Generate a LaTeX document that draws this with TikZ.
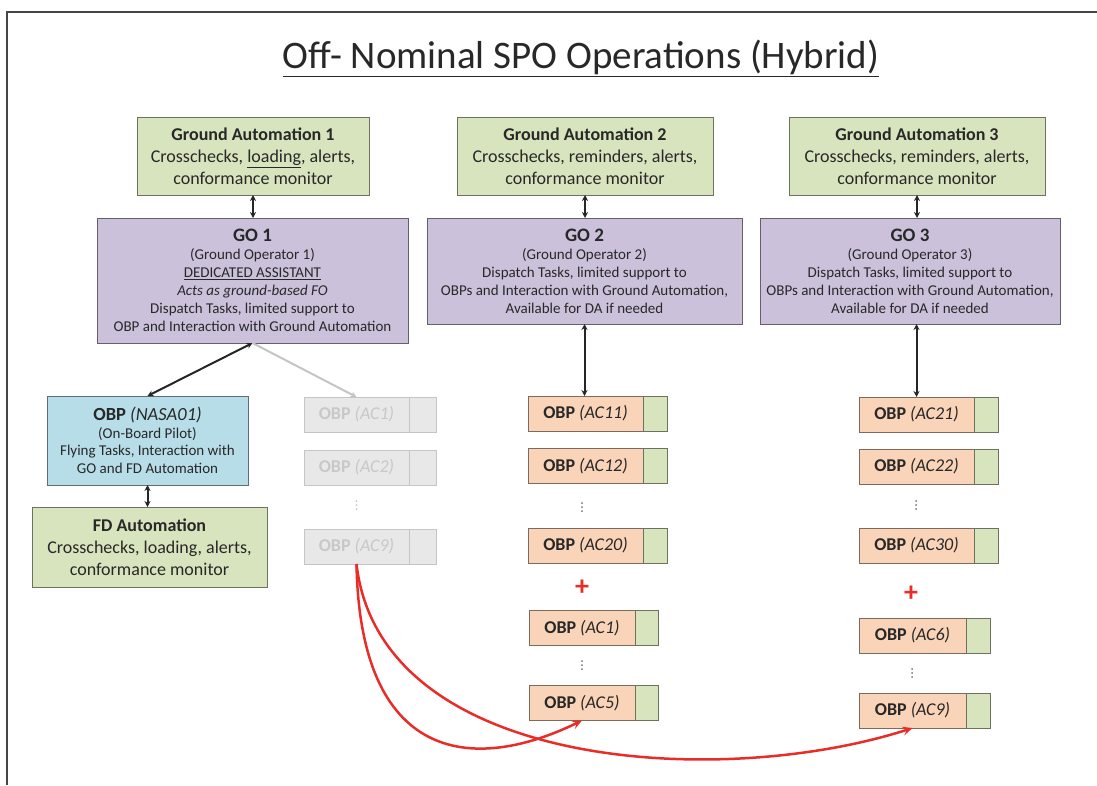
\documentclass[tikz,border=0pt]{standalone}
\usepackage{fontspec}
\setmainfont{Carlito}
\usetikzlibrary{arrows.meta,positioning}
\definecolor{txt}{RGB}{40,40,40}
\definecolor{gafill}{RGB}{215,228,189}
\definecolor{gofill}{RGB}{204,193,218}
\definecolor{obfill}{RGB}{183,222,232}
\definecolor{acfill}{RGB}{250,212,184}
\definecolor{gyfill}{RGB}{232,232,232}
\definecolor{gytxt}{RGB}{200,200,200}
\definecolor{redline}{RGB}{232,45,40}
\definecolor{frame}{RGB}{70,70,70}
\begin{document}
\begin{tikzpicture}[x=1pt,y=-1pt,
    every node/.style={inner sep=0pt,outer sep=0pt,text=txt},
    box/.style={draw=#1!50!black,fill=#1,line width=1pt,align=center},
    big/.style={font=\fontsize{18}{22}\selectfont},
    small/.style={font=\fontsize{15}{18}\selectfont},
    obp/.style={box=acfill,minimum height=35pt,font=\fontsize{18}{20}\selectfont},
    obpside/.style={box=gafill,minimum height=35pt},
    gobp/.style={draw=gyfill!85!black,fill=gyfill,line width=1pt,minimum height=35pt,
      text=gytxt,font=\fontsize{18}{20}\selectfont},
    gside/.style={draw=gyfill!85!black,fill=gyfill,line width=1pt,minimum height=35pt},
    plus/.style={font=\fontsize{28}{28}\selectfont\bfseries,text=redline},
    dbl/.style={{Stealth[length=6pt,width=6pt]}-{Stealth[length=6pt,width=6pt]},line width=2pt,black!85},
    redarr/.style={-{Stealth[length=10pt,width=9pt,inset=4pt]},line width=2.5pt,redline}]
  \useasboundingbox (0,0) rectangle (1097,785);
  \draw[frame,line width=2pt] (7,785) -- (7,12) -- (1097,12);

  \node (title) at (581,58) {\fontsize{39}{42}\selectfont\underline{Off- Nominal SPO Operations (Hybrid)}};

  \node[box=gafill,big,minimum width=232pt,minimum height=78pt] (ga1) at (253,156)
    {\textbf{Ground Automation 1}\\Crosschecks, \underline{loading}, alerts,\\conformance monitor};
  \node[box=gafill,big,minimum width=256pt,minimum height=78pt] (ga2) at (585,156)
    {\textbf{Ground Automation 2}\\Crosschecks, reminders, alerts,\\conformance monitor};
  \node[box=gafill,big,minimum width=256pt,minimum height=78pt] (ga3) at (917,156)
    {\textbf{Ground Automation 3}\\Crosschecks, reminders, alerts,\\conformance monitor};

  \node[box=gofill,small,minimum width=311pt,minimum height=125pt] (go1) at (252.5,280.5)
    {{\fontsize{19}{19}\selectfont\bfseries GO 1}\\(Ground Operator 1)\\\underline{DEDICATED ASSISTANT}\\\textit{Acts as ground-based FO}\\Dispatch Tasks, limited support to\\OBP and Interaction with Ground Automation};
  \node[box=gofill,small,minimum width=315pt,minimum height=106pt] (go2) at (584.5,271)
    {{\fontsize{19}{19}\selectfont\bfseries GO 2}\\(Ground Operator 2)\\Dispatch Tasks, limited support to\\OBPs and Interaction with Ground Automation,\\Available for DA if needed};
  \node[box=gofill,small,minimum width=300pt,minimum height=106pt] (go3) at (910,271)
    {{\fontsize{19}{19}\selectfont\bfseries GO 3}\\(Ground Operator 3)\\Dispatch Tasks, limited support to\\OBPs and Interaction with Ground Automation,\\Available for DA if needed};

  \node[box=obfill,font=\fontsize{15}{17.5}\selectfont,minimum width=201pt,minimum height=89pt] (nasa) at (147.5,440.5)
    {{\fontsize{18.5}{19}\selectfont\textbf{OBP} \textit{(NASA01)}}\\(On-Board Pilot)\\Flying Tasks, Interaction with\\GO and FD Automation};
  \node[box=gafill,big,minimum width=235pt,minimum height=80pt] (fd) at (149.5,547)
    {\textbf{FD Automation}\\Crosschecks, loading, alerts,\\conformance monitor};

  \def \Grey{
    g1/356.5/414.5/AC1,
    g2/356.5/467.5/AC2,
    g9/356.5/546.5/AC9}
  \def \Obps{
    c2a/585.5/413.5/115/24/AC11,
    c2b/585.5/466/115/24/AC12,
    c2c/585.5/545.5/115/24/AC20,
    c2d/582/628/106/23/AC1,
    c2e/582/703/106/23/AC5,
    c3a/916.5/414.5/115/24/AC21,
    c3b/916.5/466.5/115/24/AC22,
    c3c/916.5/545.5/115/24/AC30,
    c3d/912.5/635.5/107/24/AC6,
    c3e/912.5/710.5/107/24/AC9}
  \def \Dots{
    356.5/505/gytxt,
    582/507/black!55,
    582/665/black!55,
    916/505/black!55,
    912/673/black!55}
  \foreach \id / \x / \y / \lab in \Grey{
    \node[gobp,minimum width=105pt] (\id) at (\x,\y) {\textbf{OBP} \textit{(\lab)}};
    \node[gside,minimum width=27pt,right=0pt of \id] (\id s) {};
  }
  \foreach \id / \x / \y / \w / \s / \lab in \Obps{
    \node[obp,minimum width=\w pt] (\id) at (\x,\y) {\textbf{OBP} \textit{(\lab)}};
    \node[obpside,minimum width=\s pt,right=0pt of \id] (\id s) {};
  }
  \foreach \x / \y / \c in \Dots{
    \foreach \d in {-4,0,4}
      \fill[\c] (\x,\y+\d) circle (1pt);
  }
  \node[plus] (p2) at (582,588) {+};
  \node[plus] (p3) at (911,594) {+};

  \draw[dbl] (ga1.south) -- (ga1.south |- go1.north);
  \draw[dbl] (ga2.south) -- (ga2.south |- go2.north);
  \draw[dbl] (ga3.south) -- (ga3.south |- go3.north);
  \draw[dbl] (go1.south) -- (nasa.north);
  \draw[-{Stealth[length=6pt,width=6pt]},line width=2pt,gyfill!85!black] (go1.south) -- (g1.north);
  \draw[dbl] (go2.south) -- (go2.south |- c2a.north);
  \draw[dbl] (c3a.north |- go3.south) -- (c3a.north);
  \draw[dbl] (nasa.south) -- (nasa.south |- fd.north);

  \draw[redarr] (g9.south) .. controls (360,760) and (470,775) .. (c2e.south);
  \draw[redarr] (g9.south) .. controls (380,770) and (720,790) .. (c3e.south);
\end{tikzpicture}
\end{document}
